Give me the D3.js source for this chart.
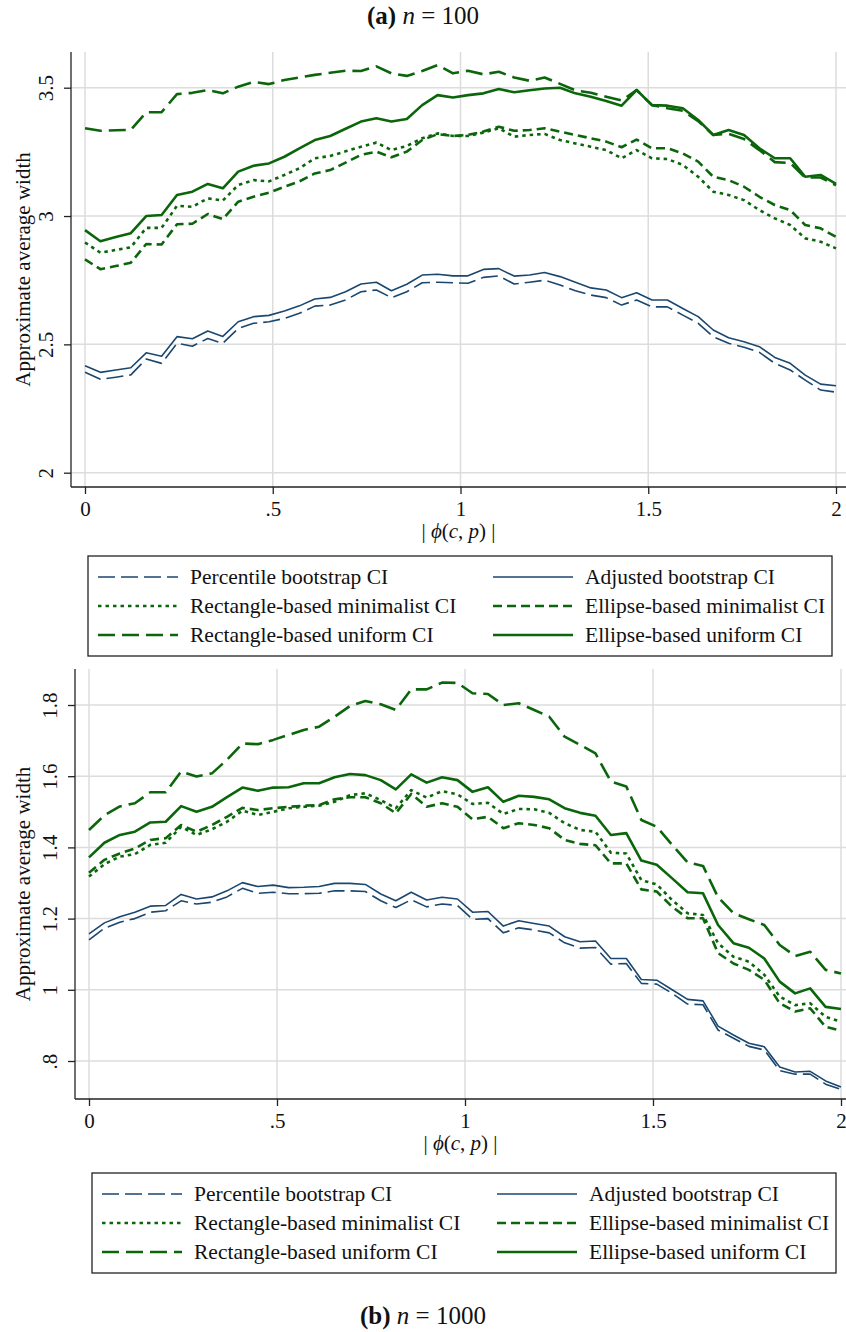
<!DOCTYPE html>
<html>
<head>
<meta charset="utf-8">
<script src="https://cdn.jsdelivr.net/npm/d3@7"></script>
<style>
  body { margin: 0; background: #fff; }
  svg { display: block; font-family: "Liberation Serif", "Times New Roman", serif; }
</style>
</head>
<body>
<div id="container"></div>
<script>
/* CONSTANTS AND GLOBALS */
const width = 846;
const height = 1332;
const navy = "#1a476f";
const green = "#0b660b";

/* DATA */
// x grid: |phi(c,p)|, 50 points from 0 to 2
const phi = [0, 0.041, 0.082, 0.122, 0.163, 0.204, 0.245, 0.286, 0.327, 0.367,
  0.408, 0.449, 0.490, 0.531, 0.571, 0.612, 0.653, 0.694, 0.735, 0.776,
  0.816, 0.857, 0.898, 0.939, 0.980, 1.020, 1.061, 1.102, 1.143, 1.184,
  1.224, 1.265, 1.306, 1.347, 1.388, 1.429, 1.469, 1.510, 1.551, 1.592,
  1.633, 1.673, 1.714, 1.755, 1.796, 1.837, 1.878, 1.918, 1.959, 2.0];

const xTicks = [0, 0.5, 1, 1.5, 2];
const yTicksA = [2, 2.5, 3, 3.5];
const yTicksB = [0.8, 1, 1.2, 1.4, 1.6, 1.8];

const seriesNames = ["Percentile bootstrap CI", "Adjusted bootstrap CI",
  "Rectangle-based minimalist CI", "Ellipse-based minimalist CI",
  "Rectangle-based uniform CI", "Ellipse-based uniform CI"];

// (a) n = 100
const n100_percentile = [2.391, 2.364, 2.372, 2.381, 2.443, 2.426, 2.504, 2.493, 2.523, 2.504,
  2.562, 2.582, 2.588, 2.601, 2.621, 2.649, 2.653, 2.673, 2.705, 2.712,
  2.682, 2.705, 2.740, 2.742, 2.740, 2.738, 2.761, 2.767, 2.735, 2.742,
  2.750, 2.731, 2.709, 2.692, 2.682, 2.653, 2.673, 2.646, 2.646, 2.614,
  2.582, 2.530, 2.504, 2.489, 2.469, 2.426, 2.400, 2.361, 2.322, 2.314];
const n100_adjusted = [2.417, 2.391, 2.400, 2.409, 2.467, 2.454, 2.530, 2.522, 2.552, 2.531,
  2.588, 2.608, 2.613, 2.630, 2.650, 2.677, 2.683, 2.705, 2.735, 2.742,
  2.709, 2.734, 2.770, 2.773, 2.767, 2.767, 2.792, 2.795, 2.766, 2.770,
  2.780, 2.764, 2.742, 2.720, 2.712, 2.682, 2.701, 2.673, 2.673, 2.640,
  2.608, 2.556, 2.526, 2.510, 2.491, 2.449, 2.426, 2.380, 2.345, 2.339];
const n100_rectMin = [2.897, 2.857, 2.868, 2.878, 2.954, 2.954, 3.040, 3.036, 3.069, 3.060,
  3.121, 3.140, 3.135, 3.160, 3.186, 3.225, 3.234, 3.252, 3.270, 3.286,
  3.257, 3.273, 3.303, 3.322, 3.312, 3.312, 3.325, 3.342, 3.309, 3.316,
  3.320, 3.296, 3.283, 3.270, 3.257, 3.225, 3.257, 3.225, 3.222, 3.199,
  3.153, 3.095, 3.082, 3.062, 3.023, 2.991, 2.965, 2.913, 2.900, 2.874];
const n100_ellMin = [2.831, 2.793, 2.805, 2.818, 2.891, 2.889, 2.968, 2.970, 3.008, 2.988,
  3.056, 3.075, 3.091, 3.114, 3.135, 3.166, 3.179, 3.208, 3.238, 3.251,
  3.229, 3.251, 3.296, 3.319, 3.312, 3.316, 3.329, 3.348, 3.332, 3.335,
  3.342, 3.329, 3.316, 3.303, 3.290, 3.268, 3.298, 3.264, 3.264, 3.244,
  3.212, 3.153, 3.140, 3.114, 3.075, 3.043, 3.023, 2.965, 2.952, 2.919];
const n100_rectUni = [3.342, 3.332, 3.334, 3.336, 3.404, 3.405, 3.475, 3.480, 3.491, 3.478,
  3.504, 3.523, 3.514, 3.530, 3.540, 3.550, 3.558, 3.566, 3.565, 3.583,
  3.556, 3.546, 3.565, 3.588, 3.556, 3.566, 3.552, 3.562, 3.540, 3.527,
  3.540, 3.515, 3.490, 3.480, 3.465, 3.450, 3.491, 3.432, 3.420, 3.410,
  3.370, 3.316, 3.320, 3.300, 3.257, 3.210, 3.207, 3.150, 3.150, 3.120];
const n100_ellUni = [2.945, 2.902, 2.918, 2.933, 3.000, 3.004, 3.082, 3.095, 3.125, 3.108,
  3.173, 3.196, 3.205, 3.231, 3.264, 3.296, 3.312, 3.340, 3.368, 3.381,
  3.368, 3.378, 3.432, 3.471, 3.462, 3.471, 3.478, 3.495, 3.482, 3.490,
  3.497, 3.500, 3.478, 3.465, 3.448, 3.430, 3.491, 3.432, 3.430, 3.420,
  3.374, 3.316, 3.335, 3.316, 3.264, 3.225, 3.225, 3.153, 3.160, 3.125];

// (b) n = 1000
const n1000_percentile = [1.140, 1.173, 1.190, 1.200, 1.218, 1.222, 1.250, 1.241, 1.246, 1.261,
  1.285, 1.271, 1.274, 1.270, 1.270, 1.271, 1.278, 1.278, 1.276, 1.250,
  1.231, 1.253, 1.233, 1.241, 1.237, 1.198, 1.200, 1.160, 1.174, 1.168,
  1.160, 1.132, 1.117, 1.119, 1.072, 1.074, 1.018, 1.016, 0.990, 0.960,
  0.958, 0.887, 0.864, 0.841, 0.831, 0.773, 0.763, 0.763, 0.735, 0.720];
const n1000_adjusted = [1.157, 1.188, 1.205, 1.218, 1.235, 1.237, 1.268, 1.255, 1.261, 1.278,
  1.301, 1.290, 1.294, 1.287, 1.288, 1.290, 1.299, 1.299, 1.296, 1.269,
  1.250, 1.274, 1.252, 1.260, 1.255, 1.218, 1.220, 1.179, 1.194, 1.186,
  1.179, 1.149, 1.135, 1.137, 1.088, 1.088, 1.029, 1.027, 1.000, 0.973,
  0.969, 0.898, 0.873, 0.850, 0.840, 0.783, 0.769, 0.771, 0.744, 0.727];
const n1000_rectMin = [1.318, 1.353, 1.374, 1.381, 1.407, 1.413, 1.458, 1.435, 1.451, 1.472,
  1.503, 1.491, 1.500, 1.510, 1.514, 1.517, 1.528, 1.547, 1.552, 1.533,
  1.510, 1.561, 1.540, 1.558, 1.549, 1.522, 1.525, 1.494, 1.508, 1.507,
  1.497, 1.468, 1.449, 1.444, 1.385, 1.383, 1.308, 1.296, 1.252, 1.215,
  1.210, 1.131, 1.093, 1.079, 1.042, 0.981, 0.957, 0.962, 0.924, 0.910];
const n1000_ellMin = [1.329, 1.365, 1.383, 1.397, 1.421, 1.426, 1.463, 1.444, 1.463, 1.486,
  1.511, 1.505, 1.510, 1.514, 1.517, 1.519, 1.535, 1.541, 1.541, 1.524,
  1.496, 1.550, 1.514, 1.524, 1.514, 1.479, 1.486, 1.454, 1.468, 1.463,
  1.454, 1.421, 1.410, 1.406, 1.355, 1.355, 1.282, 1.276, 1.233, 1.201,
  1.201, 1.103, 1.074, 1.056, 1.028, 0.962, 0.939, 0.948, 0.896, 0.885];
const n1000_rectUni = [1.449, 1.490, 1.515, 1.524, 1.555, 1.555, 1.613, 1.599, 1.608, 1.646,
  1.692, 1.690, 1.702, 1.716, 1.730, 1.739, 1.767, 1.797, 1.811, 1.802,
  1.786, 1.844, 1.844, 1.863, 1.862, 1.833, 1.831, 1.800, 1.805, 1.786,
  1.767, 1.711, 1.688, 1.664, 1.585, 1.571, 1.477, 1.458, 1.407, 1.358,
  1.348, 1.260, 1.215, 1.198, 1.182, 1.126, 1.095, 1.107, 1.056, 1.046];
const n1000_ellUni = [1.372, 1.413, 1.435, 1.444, 1.470, 1.472, 1.516, 1.500, 1.514, 1.541,
  1.568, 1.559, 1.568, 1.569, 1.580, 1.580, 1.597, 1.606, 1.603, 1.589,
  1.563, 1.605, 1.582, 1.597, 1.589, 1.556, 1.569, 1.528, 1.545, 1.542,
  1.535, 1.510, 1.497, 1.489, 1.435, 1.440, 1.363, 1.351, 1.313, 1.274,
  1.271, 1.182, 1.131, 1.118, 1.088, 1.023, 0.990, 1.004, 0.952, 0.946];

// line styles, one per series (same order as seriesNames)
const styles = [
  { color: navy, w: 1.6, dash: "17 6" },
  { color: navy, w: 1.6, dash: null },
  { color: green, w: 2.6, dash: "3.5 4" },
  { color: green, w: 2.6, dash: "9 5" },
  { color: green, w: 2.6, dash: "17 7" },
  { color: green, w: 2.6, dash: null }
];

const fmt = d => d === 0 ? "0" : String(d).replace(/^0\./, ".");

/* SVG */
const svg = d3.select("#container")
  .append("svg")
  .attr("width", width)
  .attr("height", height);

function drawPanel(p, yTicks, series) {
  const x = d3.scaleLinear().domain([0, 2]).range(p.xRange);
  const y = d3.scaleLinear().domain(p.yDomain).range(p.yRange);
  const g = svg.append("g");

  // grid
  g.selectAll(".hgrid").data(yTicks).join("line")
    .attr("x1", p.left).attr("x2", p.right)
    .attr("y1", d => y(d)).attr("y2", d => y(d))
    .attr("stroke", "#dcdcdc").attr("stroke-width", 1.5);
  g.selectAll(".vgrid").data(xTicks).join("line")
    .attr("x1", d => x(d)).attr("x2", d => x(d))
    .attr("y1", p.top).attr("y2", p.bottom)
    .attr("stroke", "#dcdcdc").attr("stroke-width", 1.5);

  // series
  const line = d3.line().x((d, i) => x(phi[i])).y(d => y(d));
  series.forEach((vals, i) => {
    g.append("path")
      .datum(vals)
      .attr("d", line)
      .attr("fill", "none")
      .attr("stroke", styles[i].color)
      .attr("stroke-width", styles[i].w)
      .attr("stroke-dasharray", styles[i].dash)
      .attr("stroke-linejoin", "round");
  });

  // y axis
  const ya = g.append("g")
    .attr("transform", `translate(${p.left},0)`)
    .call(d3.axisLeft(y).tickValues(yTicks).tickSize(7).tickSizeOuter(0).tickFormat(fmt));
  ya.select(".domain").remove();
  ya.selectAll("line").attr("stroke", "#222").attr("stroke-width", 1.3);
  ya.selectAll("text")
    .attr("x", 0).attr("y", -18).attr("dy", 0)
    .attr("transform", "rotate(-90)")
    .attr("text-anchor", "middle")
    .attr("font-size", 21).attr("font-family", "Liberation Serif").attr("fill", "#111");
  g.append("line").attr("x1", p.left).attr("x2", p.left)
    .attr("y1", p.top).attr("y2", p.bottom)
    .attr("stroke", "#222").attr("stroke-width", 1.3);

  // x axis
  const xa = g.append("g")
    .attr("transform", `translate(0,${p.bottom})`)
    .call(d3.axisBottom(x).tickValues(xTicks).tickSize(7).tickSizeOuter(0).tickFormat(fmt));
  xa.select(".domain").remove();
  xa.selectAll("line").attr("stroke", "#222").attr("stroke-width", 1.3);
  xa.selectAll("text")
    .attr("y", 29).attr("dy", 0)
    .attr("font-size", 21).attr("font-family", "Liberation Serif").attr("fill", "#111");
  g.append("line").attr("x1", p.left).attr("x2", p.right)
    .attr("y1", p.bottom).attr("y2", p.bottom)
    .attr("stroke", "#222").attr("stroke-width", 1.3);

  // axis titles
  g.append("text")
    .attr("transform", `translate(30,${(p.top + p.bottom) / 2}) rotate(-90)`)
    .attr("text-anchor", "middle")
    .attr("font-size", 21).attr("fill", "#111")
    .text("Approximate average width");

  const xt = g.append("text")
    .attr("x", (p.left + p.right) / 2).attr("y", p.bottom + 51)
    .attr("text-anchor", "middle")
    .attr("font-size", 21).attr("fill", "#111");
  xt.append("tspan").text("| ");
  xt.append("tspan").attr("font-style", "italic").text("ϕ");
  xt.append("tspan").text("(");
  xt.append("tspan").attr("font-style", "italic").text("c");
  xt.append("tspan").text(", ");
  xt.append("tspan").attr("font-style", "italic").text("p");
  xt.append("tspan").text(") |");

  // legend
  const lg = g.append("g").attr("transform", `translate(${p.legendX},${p.legendY})`);
  lg.append("rect")
    .attr("width", 744).attr("height", 100)
    .attr("fill", "#fff").attr("stroke", "#222").attr("stroke-width", 1.3);
  seriesNames.forEach((name, i) => {
    const col = i % 2, row = Math.floor(i / 2);
    const ox = col === 0 ? 10 : 405;
    const oy = 21 + row * 29;
    lg.append("line")
      .attr("x1", ox).attr("x2", ox + 80)
      .attr("y1", oy).attr("y2", oy)
      .attr("stroke", styles[i].color)
      .attr("stroke-width", styles[i].w)
      .attr("stroke-dasharray", styles[i].dash);
    lg.append("text")
      .attr("x", ox + 92).attr("y", oy).attr("dy", "0.33em")
      .attr("font-size", 21.5).attr("fill", "#111")
      .text(name);
  });
}

function drawTitle(label, n, yPos) {
  const t = svg.append("text")
    .attr("x", 423).attr("y", yPos)
    .attr("text-anchor", "middle")
    .attr("font-size", 25).attr("fill", "#111");
  t.append("tspan").attr("font-weight", "bold").text(label);
  t.append("tspan").text(" ");
  t.append("tspan").attr("font-style", "italic").text("n");
  t.append("tspan").text(" = " + n);
}

drawTitle("(a)", "100", 24);
drawPanel({
  xRange: [85, 836], yDomain: [2, 3.5], yRange: [472.7, 87.7],
  top: 52, bottom: 487, left: 71, right: 846,
  legendX: 88, legendY: 556
}, yTicksA, [n100_percentile, n100_adjusted, n100_rectMin, n100_ellMin, n100_rectUni, n100_ellUni]);

drawPanel({
  xRange: [89, 841], yDomain: [0.8, 1.8], yRange: [1061, 705],
  top: 669, bottom: 1099, left: 75, right: 846,
  legendX: 92, legendY: 1173
}, yTicksB, [n1000_percentile, n1000_adjusted, n1000_rectMin, n1000_ellMin, n1000_rectUni, n1000_ellUni]);
drawTitle("(b)", "1000", 1324);
</script>
</body>
</html>
